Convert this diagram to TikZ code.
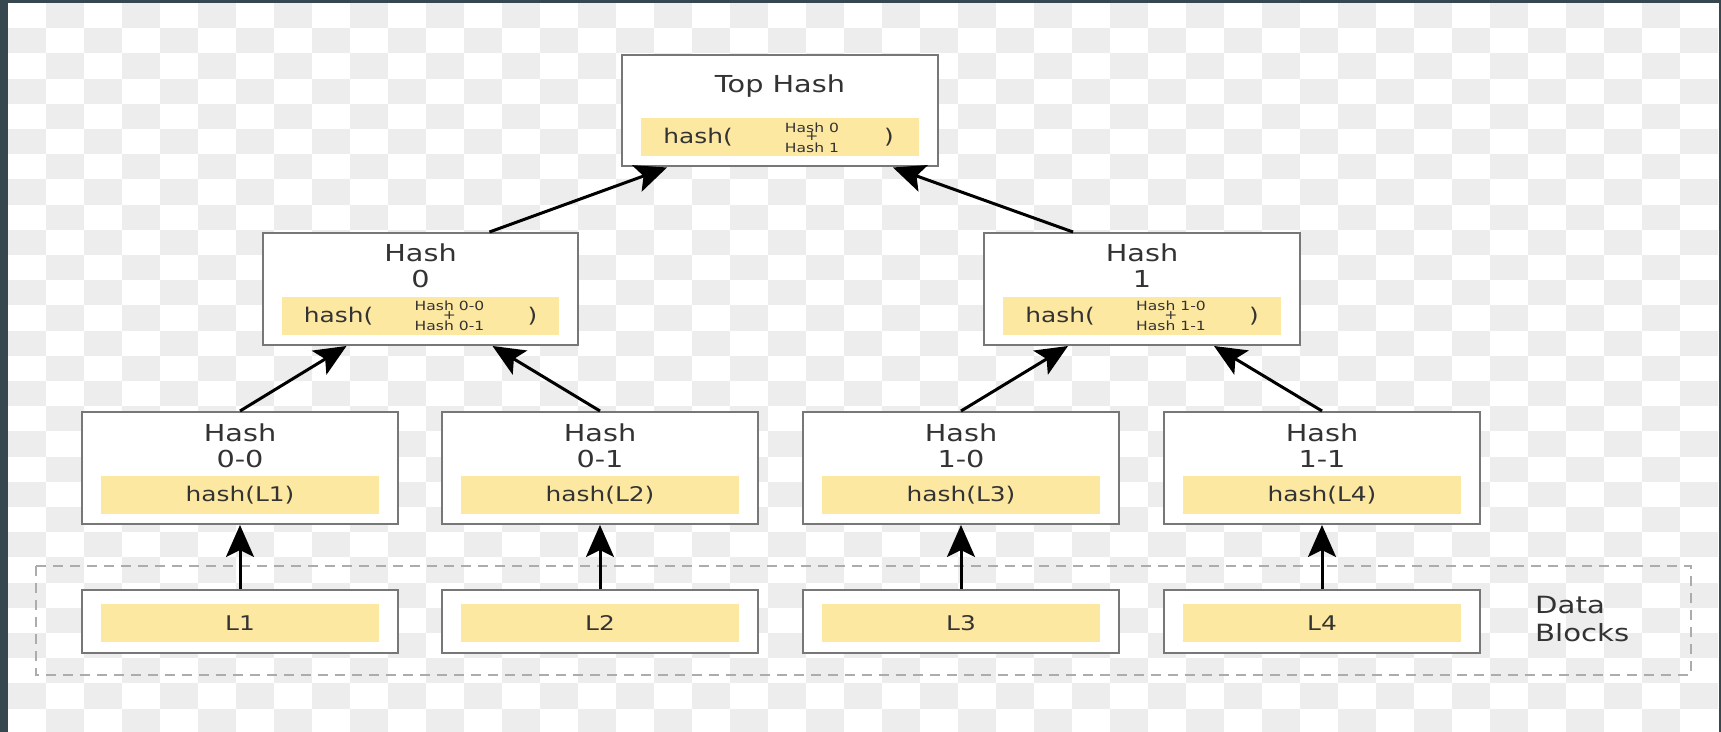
\documentclass[tikz,border=0pt]{standalone}
\usepackage{fontspec}
\setmainfont{DejaVu Sans}[FakeStretch=1.23]
\usetikzlibrary{arrows.meta}
\definecolor{frame}{HTML}{37474F}
\definecolor{checker}{HTML}{EDEDED}
\definecolor{barcol}{HTML}{FDE8A2}
\definecolor{boxline}{HTML}{777777}
\definecolor{ink}{HTML}{333333}

\begin{document}
\begin{tikzpicture}[x=0.02cm, y=-0.02cm,
     hashbox/.style={draw=boxline, line width=0.04cm, fill=white, minimum width=6.32cm, minimum height=2.24cm, inner sep=0pt},
     databox/.style={hashbox, minimum height=1.26cm},
     bar/.style={fill=barcol, minimum width=5.56cm, minimum height=0.76cm, inner sep=0pt},
     title/.style={text=ink, align=center, font=\fontsize{13.3}{14.8}\selectfont},
     bartext/.style={text=ink, inner sep=0pt, font=\fontsize{11.5}{13}\selectfont},
     stack/.style={text=ink, inner sep=0pt, align=center, font=\fontsize{7.2}{4.85}\selectfont},
     link/.style={line width=0.06cm, -{Stealth[length=0.64cm, width=0.56cm, inset=0.14cm]}},
     blockframe/.style={draw=gray!65, line width=0.04cm, dash pattern=on 0.2cm off 0.14cm}]

   \useasboundingbox (0,0) rectangle (1721,732);

   % transparent background
   \fill[frame] (0,0) rectangle (1721,732);
   \fill[white] (8,3) rectangle (1719,732);
   \begin{scope}
     \clip (8,3) rectangle (1719,732);
     \foreach \i in {0,...,44} \foreach \j in {0,...,29} {
       \pgfmathtruncatemacro\odd{mod(\i+\j,2)}
       \ifnum\odd=1 \fill[checker] ({8+38*\i},{3+25.2*\j}) rectangle +(38,25.2); \fi
     }
   \end{scope}

   \draw[blockframe] (36,566) rectangle (1691,675);
   \node[title, anchor=west, align=left, font=\fontsize{13.5}{16.4}\selectfont] (datalbl) at (1529,619) {Data\\Blocks};

   % top level
   \node[hashbox] (top) at (780,110.5) {};
   \node[title] (toptitle) at ([yshift=-0.66cm]top.north) {Top Hash};
   \node[bar] (topbar) at ([yshift=0.6cm]top.south) {};
   \node[bartext] (topfn) at ([xshift=-1.64cm]topbar.center) {hash(};
   \node[stack] (topin) at ([xshift=0.64cm]topbar.center) {Hash 0\\+\hspace*{0.5cm}\\Hash 1};
   \node[bartext] (topend) at ([xshift=2.18cm]topbar.center) {)};

   % second level
   \node[hashbox] (h0) at (420.5,289) {};
   \node[title] (h0title) at ([yshift=-0.68cm]h0.north) {Hash\\0};
   \node[bar] (h0bar) at ([yshift=0.6cm]h0.south) {};
   \node[bartext] (h0fn) at ([xshift=-1.64cm]h0bar.center) {hash(};
   \node[stack] (h0in) at ([xshift=0.58cm]h0bar.center) {Hash 0-0\\+\hspace*{0.55cm}\\Hash 0-1};
   \node[bartext] (h0end) at ([xshift=2.24cm]h0bar.center) {)};

   \node[hashbox] (h1) at (1142,289) {};
   \node[title] (h1title) at ([yshift=-0.68cm]h1.north) {Hash\\1};
   \node[bar] (h1bar) at ([yshift=0.6cm]h1.south) {};
   \node[bartext] (h1fn) at ([xshift=-1.64cm]h1bar.center) {hash(};
   \node[stack] (h1in) at ([xshift=0.58cm]h1bar.center) {Hash 1-0\\+\hspace*{0.55cm}\\Hash 1-1};
   \node[bartext] (h1end) at ([xshift=2.24cm]h1bar.center) {)};

   % leaf hashes
   \node[hashbox] (h00) at (240,468) {};
   \node[title] (h00title) at ([yshift=-0.69cm]h00.north) {Hash\\0-0};
   \node[bar] (h00bar) at ([yshift=0.6cm]h00.south) {};
   \node[bartext] (h00fn) at (h00bar) {hash(L1)};

   \node[hashbox] (h01) at (600,468) {};
   \node[title] (h01title) at ([yshift=-0.69cm]h01.north) {Hash\\0-1};
   \node[bar] (h01bar) at ([yshift=0.6cm]h01.south) {};
   \node[bartext] (h01fn) at (h01bar) {hash(L2)};

   \node[hashbox] (h10) at (961,468) {};
   \node[title] (h10title) at ([yshift=-0.69cm]h10.north) {Hash\\1-0};
   \node[bar] (h10bar) at ([yshift=0.6cm]h10.south) {};
   \node[bartext] (h10fn) at (h10bar) {hash(L3)};

   \node[hashbox] (h11) at (1322,468) {};
   \node[title] (h11title) at ([yshift=-0.69cm]h11.north) {Hash\\1-1};
   \node[bar] (h11bar) at ([yshift=0.6cm]h11.south) {};
   \node[bartext] (h11fn) at (h11bar) {hash(L4)};

   % data blocks
   \node[databox] (d1) at (240,621.5) {};
   \node[bar] (d1bar) at ([yshift=-0.03cm]d1.center) {};
   \node[bartext] (d1txt) at (d1bar) {L1};

   \node[databox] (d2) at (600,621.5) {};
   \node[bar] (d2bar) at ([yshift=-0.03cm]d2.center) {};
   \node[bartext] (d2txt) at (d2bar) {L2};

   \node[databox] (d3) at (961,621.5) {};
   \node[bar] (d3bar) at ([yshift=-0.03cm]d3.center) {};
   \node[bartext] (d3txt) at (d3bar) {L3};

   \node[databox] (d4) at (1322,621.5) {};
   \node[bar] (d4bar) at ([yshift=-0.03cm]d4.center) {};
   \node[bartext] (d4txt) at (d4bar) {L4};

   % connectors
   \draw[link] ([xshift=1.38cm]h0.north) -- ([xshift=-2.26cm]top.south);
   \draw[link] ([xshift=-1.38cm]h1.north) -- ([xshift=2.26cm]top.south);
   \draw[link] (h00.north) -- ([xshift=-1.48cm]h0.south);
   \draw[link] (h01.north) -- ([xshift=1.44cm]h0.south);
   \draw[link] (h10.north) -- ([xshift=-1.48cm]h1.south);
   \draw[link] (h11.north) -- ([xshift=1.44cm]h1.south);
   \draw[link] (d1.north) -- (h00.south);
   \draw[link] (d2.north) -- (h01.south);
   \draw[link] (d3.north) -- (h10.south);
   \draw[link] (d4.north) -- (h11.south);
  \end{tikzpicture}
\end{document}
